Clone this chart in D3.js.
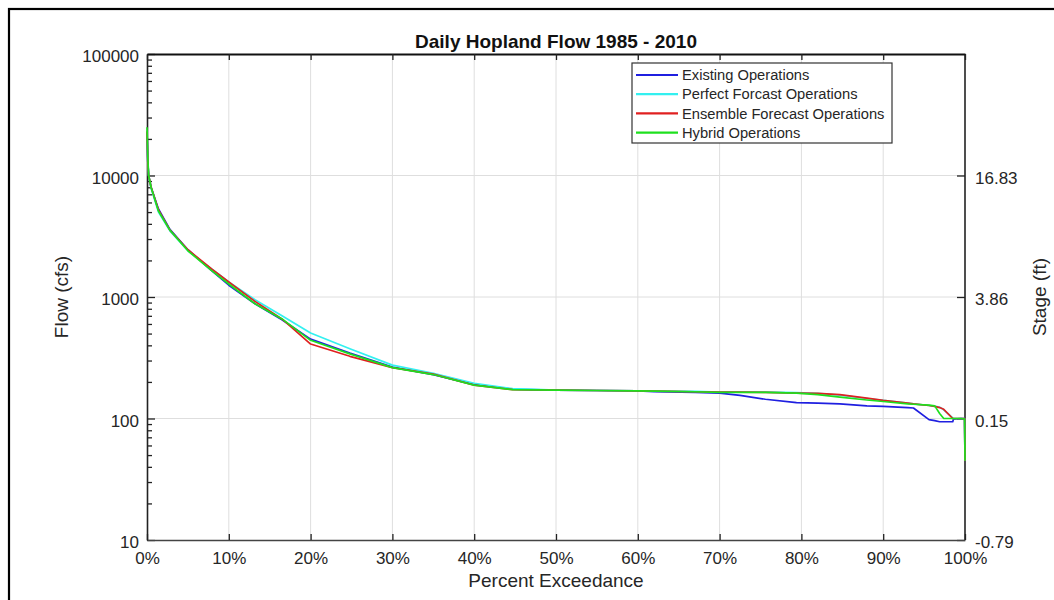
<!DOCTYPE html>
<html>
<head>
<meta charset="utf-8">
<script src="https://cdn.jsdelivr.net/npm/d3@7"></script>
<style>
  html, body { margin: 0; padding: 0; background: #fff; }
  svg { display: block; font-family: Arial, "Liberation Sans", sans-serif; }
</style>
</head>
<body>
<svg id="chart" width="1054" height="600"></svg>
<script>
// ---------- DATA ----------
const chartTitle = "Daily Hopland Flow 1985 - 2010";
const seriesNames = ["Existing Operations", "Perfect Forcast Operations", "Ensemble Forecast Operations", "Hybrid Operations"];
const seriesColors = ["#1f1fe0", "#33f0f0", "#e02020", "#1ee01e"];

const percentExceedance = [0, 0.1, 0.2, 0.5, 1.4, 2.8, 5, 7.9, 10, 13.2, 16.5, 20, 24.8, 30, 35, 40, 44.7, 50, 55, 60, 62, 67, 70, 72.5, 75.6, 79.4, 82, 84.7, 88, 90, 93, 93.7, 95.6, 96.3, 96.9, 97.4, 98.5, 98.6, 99.5, 99.95, 100];

const existingFlow = [23000, 13000, 10000, 8000, 5300, 3600, 2450, 1650, 1250, 880, 650, 450, 345, 265, 230, 190, 174, 171, 170, 169, 166, 164, 162, 155, 144, 135, 134, 132, 127, 126, 123, 122, 98, 96, 94, 94, 94, 99, 100, 100, 45];
const perfectFlow  = [23000, 13000, 10000, 7800, 5000, 3500, 2400, 1700, 1330, 950, 700, 505, 375, 275, 235, 195, 176, 171, 170, 169, 168, 167, 165, 165, 165, 163, 161, 156, 146, 141, 134, 132, 128, 126, 124, 118, 101, 100, 100, 100, 45];
const ensembleFlow = [23000, 13000, 10000, 8000, 5200, 3550, 2450, 1700, 1330, 920, 660, 410, 325, 262, 232, 188, 173, 171, 170, 169, 168, 166, 165, 165, 164, 162, 161, 157, 147, 141, 134, 132, 128, 126, 123, 119, 100, 100, 100, 100, 45];
const hybridFlow   = [25000, 14000, 10000, 8000, 5100, 3550, 2400, 1650, 1280, 880, 660, 440, 340, 262, 230, 188, 173, 171, 170, 169, 168, 166, 164, 164, 164, 162, 157, 150, 142, 138, 132, 131, 129, 127, 110, 100, 100, 100, 100, 99, 45];

const xTickValues = [0, 10, 20, 30, 40, 50, 60, 70, 80, 90, 100];
const yTickValues = [10, 100, 1000, 10000, 100000];
const stageTickValues = [10, 100, 1000, 10000];
const stageTickLabels = ["-0.79", "0.15", "3.86", "16.83"];

const xLabel = "Percent Exceedance";
const yLabel = "Flow (cfs)";
const y2Label = "Stage (ft)";

// ---------- CHART ----------
const svg = d3.select("#chart");
const plot = { left: 147, top: 54, right: 965, bottom: 540 };

const x = d3.scaleLinear().domain([0, 100]).range([plot.left, plot.right]);
const y = d3.scaleLog().domain([10, 100000]).range([plot.bottom, plot.top]);

// outer frame (extends beyond visible area right/bottom)
svg.append("rect").attr("x", 9).attr("y", 9).attr("width", 1200).attr("height", 800)
  .attr("fill", "none").attr("stroke", "#000").attr("stroke-width", 2.2);

// grid
const grid = svg.append("g").attr("stroke", "#dedede").attr("stroke-width", 1);
grid.selectAll("line.v").data(xTickValues.slice(1, -1)).join("line")
  .attr("x1", d => x(d)).attr("x2", d => x(d)).attr("y1", plot.top).attr("y2", plot.bottom);
grid.selectAll("line.h").data(yTickValues.slice(1, -1)).join("line")
  .attr("y1", d => y(d)).attr("y2", d => y(d)).attr("x1", plot.left).attr("x2", plot.right);

// minor tick values
const minorTicks = [];
for (let dec = 10; dec < 100000; dec *= 10) for (let k = 2; k <= 9; k++) minorTicks.push(dec * k);

const tickFont = 17;

// left axis
const gL = svg.append("g").attr("transform", `translate(${plot.left},0)`);
gL.call(d3.axisLeft(y).tickValues(yTickValues).tickFormat(d3.format("d")).tickSize(-8).tickPadding(8).tickSizeOuter(0));
const gLm = svg.append("g").attr("transform", `translate(${plot.left},0)`);
gLm.call(d3.axisLeft(y).tickValues(minorTicks).tickFormat("").tickSize(-5).tickSizeOuter(0));
gLm.select(".domain").remove();

// right axis
const gR = svg.append("g").attr("transform", `translate(${plot.right},0)`);
gR.call(d3.axisRight(y).tickValues(stageTickValues)
  .tickFormat(d => stageTickLabels[stageTickValues.indexOf(d)]).tickSize(-8).tickPadding(10).tickSizeOuter(0));
gR.select(".domain").attr("d", `M0,${plot.top}V${plot.bottom}`);

// bottom axis
const gB = svg.append("g").attr("transform", `translate(0,${plot.bottom})`);
gB.call(d3.axisBottom(x).tickValues(xTickValues).tickFormat(d => d + "%").tickSize(-6).tickPadding(12).tickSizeOuter(0));

// top axis
const gT = svg.append("g").attr("transform", `translate(0,${plot.top})`);
gT.call(d3.axisTop(x).tickValues(xTickValues).tickFormat("").tickSize(-6).tickSizeOuter(0));

[gL, gLm, gR, gB, gT].forEach(g => {
  g.selectAll("text").attr("font-size", tickFont).attr("fill", "#262626").attr("font-family", "Arial, 'Liberation Sans', sans-serif");
  g.selectAll("line").attr("stroke", "#222").attr("stroke-width", 1.3);
  g.select(".domain").attr("stroke", "#222").attr("stroke-width", 1.6);
});
gT.select(".domain").attr("stroke-width", 2.2).attr("stroke", "#111");
gB.select(".domain").attr("stroke", "#444");
gL.selectAll(".tick text").attr("dy", "0.45em");
gR.selectAll(".tick text").attr("dy", "0.45em");

// lines
const allSeries = [existingFlow, perfectFlow, ensembleFlow, hybridFlow];
const line = d3.line().x((d, i) => x(percentExceedance[i])).y(d => y(d));
svg.append("g").selectAll("path").data(allSeries).join("path")
  .attr("d", d => line(d)).attr("fill", "none")
  .attr("stroke", (d, i) => seriesColors[i]).attr("stroke-width", 1.7)
  .attr("stroke-linejoin", "round");

// title
svg.append("text").attr("x", (plot.left + plot.right) / 2).attr("y", 48)
  .attr("text-anchor", "middle").attr("font-size", 19).attr("font-weight", "bold").attr("fill", "#111")
  .text(chartTitle);

// axis labels
svg.append("text").attr("x", (plot.left + plot.right) / 2).attr("y", 587)
  .attr("text-anchor", "middle").attr("font-size", 19).attr("fill", "#262626").text(xLabel);
svg.append("text").attr("transform", `translate(68,${(plot.top + plot.bottom) / 2}) rotate(-90)`)
  .attr("text-anchor", "middle").attr("font-size", 19).attr("fill", "#262626").text(yLabel);
svg.append("text").attr("transform", `translate(1046,${(plot.top + plot.bottom) / 2}) rotate(-90)`)
  .attr("text-anchor", "middle").attr("font-size", 19).attr("fill", "#262626").text(y2Label);

// legend
const lg = svg.append("g");
lg.append("rect").attr("x", 632).attr("y", 63).attr("width", 260).attr("height", 80)
  .attr("fill", "#fff").attr("stroke", "#333").attr("stroke-width", 1.2);
const items = lg.selectAll("g.item").data(seriesNames).join("g")
  .attr("transform", (d, i) => `translate(0,${75 + i * 19.2})`);
items.append("line").attr("x1", 636).attr("x2", 678).attr("y1", 0).attr("y2", 0)
  .attr("stroke", (d, i) => seriesColors[i]).attr("stroke-width", 2.2);
items.append("text").attr("x", 682).attr("y", 0).attr("dy", "0.35em")
  .attr("font-size", 14.7).attr("fill", "#262626").text(d => d);
</script>
</body>
</html>
